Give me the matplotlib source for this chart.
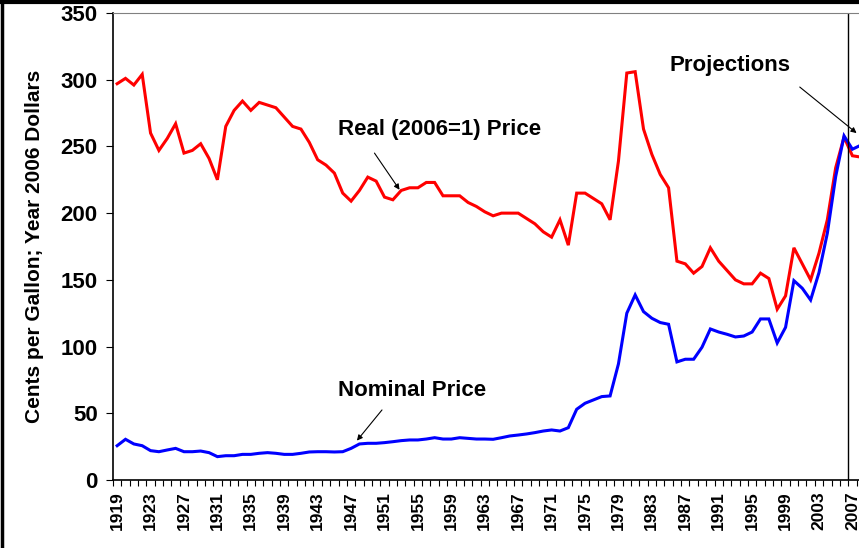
import matplotlib.pyplot as plt
from matplotlib.lines import Line2D

plt.rcParams['font.family'] = ['Liberation Sans', 'DejaVu Sans']

years = list(range(1919, 2009))

real_price = [297, 301, 296, 304, 260, 247, 256, 267, 245, 247,
              252, 241, 225, 265, 277, 284, 277, 283, 281, 279,
              272, 265, 263, 253, 240, 236, 230, 215, 209, 217,
              227, 224, 212, 210, 217, 219, 219, 223, 223, 213,
              213, 213, 208, 205, 201, 198, 200, 200, 200, 196,
              192, 186, 182, 195, 176, 215, 215, 211, 207, 195,
              239, 305, 306, 263, 244, 229, 219, 164, 162, 155,
              160, 174, 164, 157, 150, 147, 147, 155, 151, 128,
              138, 174, 162, 150, 170, 195, 234, 257, 243, 242]

nominal_price = [25.7, 30.5, 27.0, 25.7, 22.0, 21.2, 22.5, 23.7, 21.2, 21.2,
                 21.7, 20.5, 17.5, 18.2, 18.2, 19.2, 19.2, 20.0, 20.5, 20.0,
                 19.2, 19.2, 20.0, 21.0, 21.2, 21.2, 21.0, 21.2, 23.7, 27.0,
                 27.5, 27.5, 28.0, 28.7, 29.5, 30.0, 30.0, 30.7, 31.7, 30.7,
                 30.7, 31.7, 31.2, 30.7, 30.7, 30.5, 31.7, 33.0, 33.7, 34.5,
                 35.5, 36.7, 37.5, 36.7, 39.2, 53.0, 57.5, 60.0, 62.5, 63.0,
                 87.0, 125.0, 138.7, 126.2, 121.2, 118.0, 116.7, 88.5, 90.5, 90.5,
                 99.5, 113.2, 110.9, 109.2, 107.2, 107.9, 110.9, 120.7, 120.7, 102.7,
                 114.4, 149.4, 143.7, 134.9, 155.4, 184.9, 227.4, 257.9, 247.9, 250.9]

label_years = list(range(1919, 2009, 4))

fig = plt.figure(figsize=(8.59, 5.48), dpi=100)
ax = fig.add_axes([0.1315, 0.1241, 0.8754, 0.8522])

ax.plot(years, real_price, color='#FF0000', lw=2.2, solid_joinstyle='miter')
ax.plot(years, nominal_price, color='#0000FF', lw=2.2, solid_joinstyle='miter')

# start of projections
ax.axvline(2006.5, color='black', lw=1)

ax.set_xlim(1918.5, 2008.5)
ax.set_ylim(0, 350)

ax.set_yticks(range(0, 351, 50))
ax.set_xticks(label_years)
ax.set_xticklabels([str(y) for y in label_years], rotation=90, fontsize=12.5, fontweight='bold')
ax.set_xticks([y - 0.5 for y in years], minor=True)
ax.tick_params(axis='x', which='major', length=0, pad=8)
ax.tick_params(axis='x', which='minor', length=4, width=0.8, direction='out')
ax.tick_params(axis='y', length=5, width=0.8, labelsize=16, pad=6)
for lab in ax.get_yticklabels():
    lab.set_fontweight('bold')

ax.spines['top'].set_color('#808080')
ax.spines['right'].set_visible(False)
ax.spines['left'].set_linewidth(1.2)
ax.spines['bottom'].set_linewidth(1.2)

ax.set_ylabel('Cents per Gallon; Year 2006 Dollars', fontsize=15, fontweight='bold', labelpad=12)

arrow = dict(arrowstyle='-|>', color='black', lw=0.8, shrinkA=0, shrinkB=0, mutation_scale=8)

ax.text(1945.4, 263, 'Real (2006=1) Price', fontsize=16, fontweight='bold', ha='left', va='center')
ax.annotate('', xy=(1952.8, 217.5), xytext=(1949.8, 245), arrowprops=arrow)

ax.text(1945.4, 67, 'Nominal Price', fontsize=16, fontweight='bold', ha='left', va='center')
ax.annotate('', xy=(1947.7, 29.5), xytext=(1950.7, 52.5), arrowprops=arrow)

ax.text(1985.1, 311, 'Projections', fontsize=16, fontweight='bold', ha='left', va='center')
ax.annotate('', xy=(2007.5, 260), xytext=(2000.7, 294.5), arrowprops=arrow)

# frame of the original slide (left and top edges)
fig.add_artist(Line2D([0.002, 0.002], [0, 1], color='black', lw=2.5))
fig.add_artist(Line2D([0, 1], [0.997, 0.997], color='black', lw=3))

fig.savefig('out.png', dpi=100)
